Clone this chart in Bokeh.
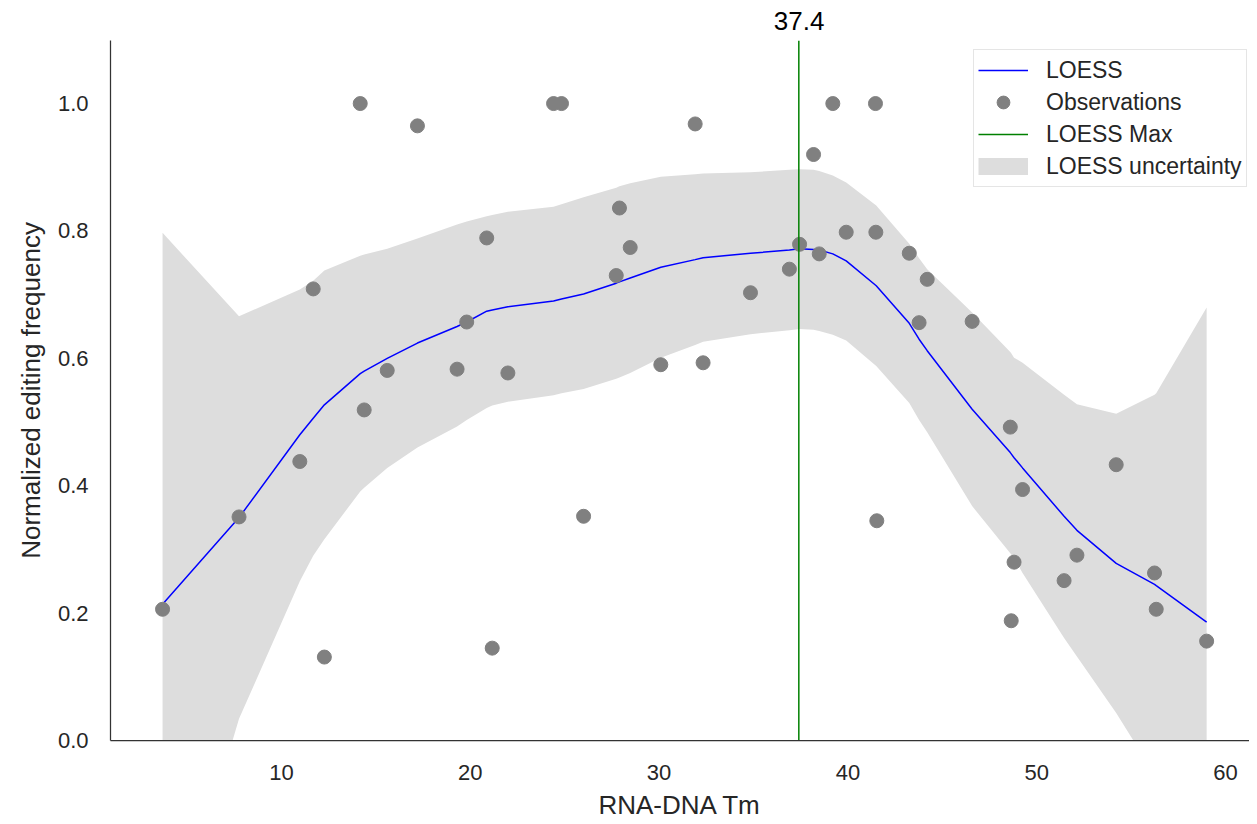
from bokeh.plotting import figure
from bokeh.models import Range1d, FixedTicker, Legend, LegendItem, NumeralTickFormatter
from bokeh.embed import file_html
from bokeh.resources import INLINE

# ---- data ----
obs_x = [3.7, 7.75, 10.97, 11.68, 12.27, 14.17, 14.38, 15.6, 17.2, 19.3, 19.81, 20.87, 21.16,
         21.99, 24.41, 24.83, 26.0, 27.73, 27.9, 28.47, 30.09, 31.91, 32.33, 34.84, 36.9, 37.44,
         38.18, 38.48, 39.2, 39.91, 41.46, 41.48, 41.53, 43.25, 43.77, 44.2, 46.58, 48.6,
         48.65, 48.8, 49.25, 51.45, 52.13, 54.21, 56.24, 56.33, 59.0]
obs_y = [0.206, 0.351, 0.438, 0.709, 0.131, 1.0, 0.519, 0.581, 0.965, 0.583, 0.657, 0.789, 0.145,
         0.577, 1.0, 1.0, 0.352, 0.730, 0.836, 0.774, 0.590, 0.968, 0.593, 0.703, 0.740, 0.779,
         0.920, 0.764, 1.0, 0.798, 1.0, 0.798, 0.345, 0.765, 0.656, 0.724, 0.658, 0.492,
         0.188, 0.280, 0.394, 0.251, 0.291, 0.433, 0.263, 0.206, 0.156]

loess_x = [3.7, 7.75, 10.97, 11.68, 12.27, 14.17, 14.38, 15.6, 17.2, 19.3, 19.81, 20.87, 21.16,
           21.99, 24.41, 24.83, 26.0, 27.73, 27.9, 28.47, 30.09, 31.91, 32.33, 34.84, 36.9, 37.44,
           38.18, 38.48, 39.2, 39.91, 41.5, 43.25, 43.77, 44.2, 46.58, 48.6, 48.65, 48.8, 49.25,
           51.45, 52.13, 54.21, 56.24, 56.33, 59.0]
loess_y = [0.214, 0.350, 0.480, 0.506, 0.527, 0.576, 0.580, 0.600, 0.624, 0.650, 0.657, 0.674, 0.676,
           0.681, 0.690, 0.693, 0.701, 0.718, 0.720, 0.726, 0.743, 0.755, 0.758, 0.765, 0.770, 0.772,
           0.771, 0.770, 0.764, 0.753, 0.714, 0.655, 0.630, 0.612, 0.520, 0.452, 0.450, 0.444, 0.428,
           0.352, 0.330, 0.278, 0.245, 0.243, 0.186]
loess_upper = [0.797, 0.666, 0.708, 0.722, 0.738, 0.761, 0.763, 0.772, 0.788, 0.810, 0.815, 0.823, 0.825,
               0.830, 0.838, 0.842, 0.853, 0.868, 0.870, 0.875, 0.885, 0.889, 0.890, 0.892, 0.896, 0.897,
               0.896, 0.894, 0.887, 0.876, 0.840, 0.780, 0.757, 0.740, 0.672, 0.610, 0.608, 0.601, 0.593,
               0.543, 0.528, 0.513, 0.543, 0.545, 0.680]
loess_lower = [-0.37, 0.034, 0.250, 0.290, 0.316, 0.391, 0.397, 0.428, 0.460, 0.493, 0.503, 0.522, 0.526,
               0.532, 0.542, 0.545, 0.552, 0.568, 0.570, 0.577, 0.601, 0.621, 0.626, 0.638, 0.644, 0.646,
               0.645, 0.643, 0.637, 0.628, 0.588, 0.530, 0.503, 0.484, 0.368, 0.294, 0.292, 0.287, 0.263,
               0.161, 0.132, 0.043, -0.053, -0.059, -0.31]

loess_max_x = 37.4
loess_max_label = "37.4"
x_ticks = [10, 20, 30, 40, 50, 60]
y_ticks = [0.0, 0.2, 0.4, 0.6, 0.8, 1.0]
x_lim = (0.943, 61.27)
y_lim = (0.0, 1.099)

FONT = "Liberation Sans"
TXT = "#262626"
FRAME_W, FRAME_H = 1139, 700
LEFT = 110

p = figure(frame_width=FRAME_W, frame_height=FRAME_H,
           x_range=Range1d(*x_lim), y_range=Range1d(*y_lim),
           output_backend="svg", toolbar_location=None,
           min_border_left=LEFT, min_border_right=0, min_border_top=40, min_border_bottom=76)
p.outline_line_color = None
p.grid.visible = False
p.background_fill_color = "white"
p.border_fill_color = "white"

# title text placed over the LOESS maximum
px_per_unit = FRAME_W / (x_lim[1] - x_lim[0])
title_half_w = 25
p.title.text = loess_max_label
p.title.align = "left"
p.title.offset = (loess_max_x - x_lim[0]) * px_per_unit - title_half_w
p.title.vertical_align = "top"
p.title.text_font = FONT
p.title.text_font_size = "26px"
p.title.text_font_style = "normal"
p.title.text_color = "black"
p.title.standoff = 18

band = p.varea(x=loess_x, y1=loess_lower, y2=loess_upper, fill_color="#dddddd")
line = p.line(loess_x, loess_y, line_color="blue", line_width=1.5)
pts = p.scatter(obs_x, obs_y, size=14, fill_color="#808080", line_color="#808080")
vline = p.line([loess_max_x, loess_max_x], [y_lim[0], y_lim[1]], line_color="green", line_width=1.5)
band_proxy = p.line(x=loess_x[:1], y=loess_y[:1], line_color="#dddddd", line_width=17)

for ax in (p.xaxis, p.yaxis):
    ax.axis_line_color = "#333333"
    ax.axis_line_width = 1.25
    ax.major_tick_line_color = None
    ax.minor_tick_line_color = None
    ax.major_label_text_font = FONT
    ax.major_label_text_font_size = "22px"
    ax.major_label_text_color = TXT
    ax.axis_label_text_font = FONT
    ax.axis_label_text_font_size = "26px"
    ax.axis_label_text_font_style = "normal"
    ax.axis_label_text_color = TXT

p.xaxis.ticker = FixedTicker(ticks=x_ticks)
p.yaxis.ticker = FixedTicker(ticks=y_ticks)
p.yaxis.formatter = NumeralTickFormatter(format="0.0")
p.xaxis.axis_label = "RNA-DNA Tm"
p.yaxis.axis_label = "Normalized editing frequency"
p.xaxis.major_label_standoff = 18
p.yaxis.major_label_standoff = 16
p.xaxis.axis_label_standoff = 7
p.yaxis.axis_label_standoff = 9

legend = Legend(items=[
    LegendItem(label="LOESS", renderers=[line]),
    LegendItem(label="Observations", renderers=[pts]),
    LegendItem(label="LOESS Max", renderers=[vline]),
    LegendItem(label="LOESS uncertainty", renderers=[band_proxy]),
], location=(863, 553))
legend.label_text_font = FONT
legend.label_text_font_size = "23px"
legend.label_text_color = TXT
legend.glyph_width = 50
legend.glyph_height = 32
legend.label_standoff = 18
legend.spacing = 0
legend.padding = 4
legend.border_line_color = "#cccccc"
legend.border_line_width = 1
legend.background_fill_color = "white"
legend.background_fill_alpha = 0.8
p.add_layout(legend)

open("out.html", "w").write(file_html(p, INLINE))
